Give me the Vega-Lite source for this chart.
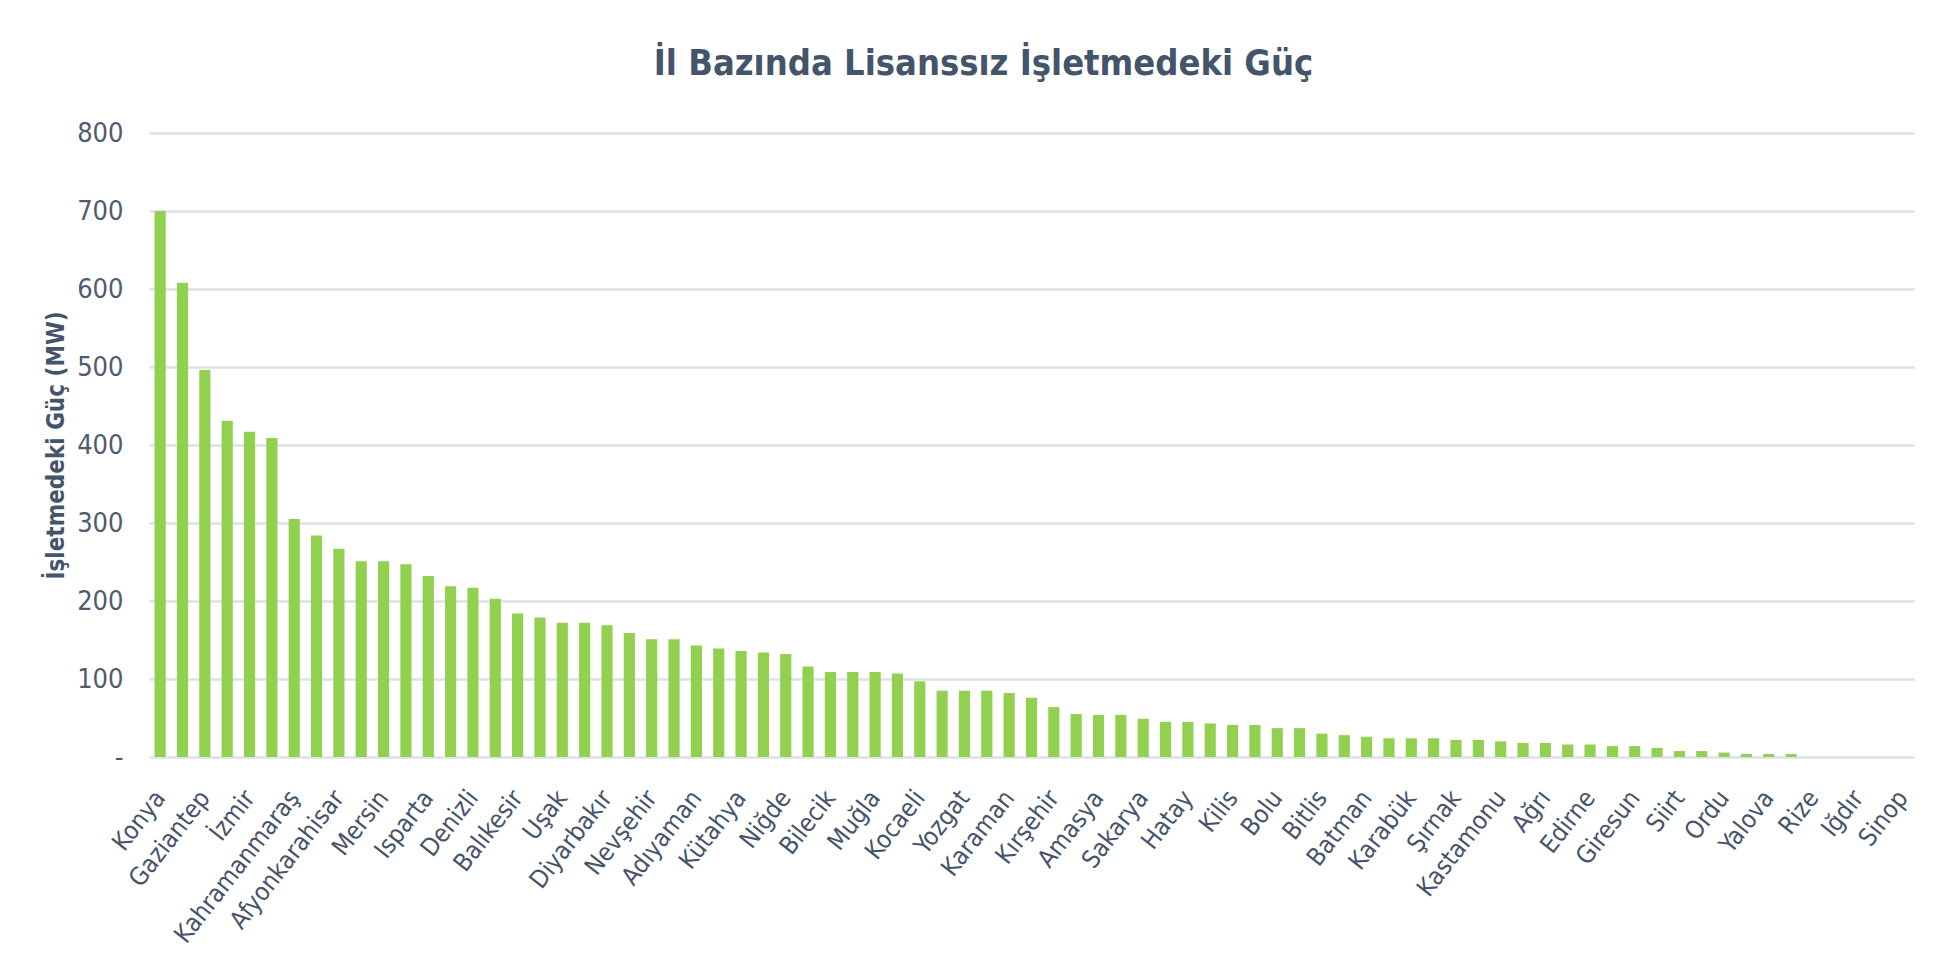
{
  "$schema": "https://vega.github.io/schema/vega-lite/v6.json",
  "width": 1765,
  "height": 624,
  "autosize": {"type": "none"},
  "padding": {"left": 149, "top": 133, "right": 37, "bottom": 210},
  "background": "white",
  "title": {
    "text": "İl Bazında Lisanssız İşletmedeki Güç",
    "font": "DejaVu Sans Condensed, DejaVu Sans, sans-serif",
    "fontSize": 36,
    "fontWeight": "bold",
    "color": "#44546a",
    "anchor": "middle",
    "frame": "group",
    "dx": -48,
    "offset": 8,
    "baseline": "alphabetic"
  },
  "data": {
    "values": [
      {"il": "Konya", "guc": 700},
      {"il": "Kayseri", "guc": 608},
      {"il": "Gaziantep", "guc": 496},
      {"il": "Ankara", "guc": 431},
      {"il": "İzmir", "guc": 417},
      {"il": "Antalya", "guc": 409},
      {"il": "Kahramanmaraş", "guc": 305},
      {"il": "Şanlıurfa", "guc": 284},
      {"il": "Afyonkarahisar", "guc": 267},
      {"il": "Burdur", "guc": 251},
      {"il": "Mersin", "guc": 251},
      {"il": "Manisa", "guc": 247},
      {"il": "Isparta", "guc": 232},
      {"il": "Aydın", "guc": 219},
      {"il": "Denizli", "guc": 217},
      {"il": "Elazığ", "guc": 203},
      {"il": "Balıkesir", "guc": 184},
      {"il": "Malatya", "guc": 179},
      {"il": "Uşak", "guc": 172},
      {"il": "Aksaray", "guc": 172},
      {"il": "Diyarbakır", "guc": 169},
      {"il": "Eskişehir", "guc": 159},
      {"il": "Nevşehir", "guc": 151},
      {"il": "Adana", "guc": 151},
      {"il": "Adıyaman", "guc": 143},
      {"il": "Erzurum", "guc": 139},
      {"il": "Kütahya", "guc": 136},
      {"il": "Bursa", "guc": 134},
      {"il": "Niğde", "guc": 132},
      {"il": "Osmaniye", "guc": 116},
      {"il": "Bilecik", "guc": 109},
      {"il": "Sivas", "guc": 109},
      {"il": "Muğla", "guc": 109},
      {"il": "Mardin", "guc": 107},
      {"il": "Kocaeli", "guc": 97},
      {"il": "Van", "guc": 85},
      {"il": "Yozgat", "guc": 85},
      {"il": "Çorum", "guc": 85},
      {"il": "Karaman", "guc": 82},
      {"il": "Tokat", "guc": 76},
      {"il": "Kırşehir", "guc": 64},
      {"il": "Samsun", "guc": 55},
      {"il": "Amasya", "guc": 54},
      {"il": "Kırıkkale", "guc": 54},
      {"il": "Sakarya", "guc": 49},
      {"il": "Çanakkale", "guc": 45},
      {"il": "Hatay", "guc": 45},
      {"il": "Erzincan", "guc": 43},
      {"il": "Kilis", "guc": 41},
      {"il": "İstanbul", "guc": 41},
      {"il": "Bolu", "guc": 37},
      {"il": "Tekirdağ", "guc": 37},
      {"il": "Bitlis", "guc": 30},
      {"il": "Muş", "guc": 28},
      {"il": "Batman", "guc": 26},
      {"il": "Kars", "guc": 24},
      {"il": "Karabük", "guc": 24},
      {"il": "Bingöl", "guc": 24},
      {"il": "Şırnak", "guc": 22},
      {"il": "Çankırı", "guc": 22},
      {"il": "Kastamonu", "guc": 20},
      {"il": "Düzce", "guc": 18},
      {"il": "Ağrı", "guc": 18},
      {"il": "Kırklareli", "guc": 16},
      {"il": "Edirne", "guc": 16},
      {"il": "Zonguldak", "guc": 14},
      {"il": "Giresun", "guc": 14},
      {"il": "Bartın", "guc": 11.7},
      {"il": "Siirt", "guc": 7.6},
      {"il": "Hakkari", "guc": 7.6},
      {"il": "Ordu", "guc": 5.7},
      {"il": "Trabzon", "guc": 3.8},
      {"il": "Yalova", "guc": 3.8},
      {"il": "Artvin", "guc": 3.8},
      {"il": "Rize", "guc": 0},
      {"il": "Bayburt", "guc": 0},
      {"il": "Iğdır", "guc": 0},
      {"il": "Gümüşhane", "guc": 0},
      {"il": "Sinop", "guc": 0}
    ]
  },
  "mark": {"type": "bar", "color": "#92d050"},
  "encoding": {
    "x": {
      "field": "il",
      "type": "nominal",
      "sort": null,
      "scale": {"paddingInner": 0.5, "paddingOuter": 0.25},
      "axis": {
        "values": ["Konya", "Gaziantep", "İzmir", "Kahramanmaraş", "Afyonkarahisar", "Mersin", "Isparta", "Denizli", "Balıkesir", "Uşak", "Diyarbakır", "Nevşehir", "Adıyaman", "Kütahya", "Niğde", "Bilecik", "Muğla", "Kocaeli", "Yozgat", "Karaman", "Kırşehir", "Amasya", "Sakarya", "Hatay", "Kilis", "Bolu", "Bitlis", "Batman", "Karabük", "Şırnak", "Kastamonu", "Ağrı", "Edirne", "Giresun", "Siirt", "Ordu", "Yalova", "Rize", "Iğdır", "Sinop"],
        "title": null,
        "labelAngle": -52,
        "labelAlign": "right",
        "labelBaseline": "middle",
        "labelFont": "DejaVu Sans Condensed, DejaVu Sans, sans-serif",
        "labelFontSize": 25,
        "labelColor": "#44546a",
        "labelPadding": 36,
        "labelLimit": 0,
        "labelOverlap": false,
        "labelBound": false,
        "ticks": false,
        "domain": false,
        "grid": false
      }
    },
    "y": {
      "field": "guc",
      "type": "quantitative",
      "scale": {"domain": [0, 800]},
      "axis": {
        "values": [0, 100, 200, 300, 400, 500, 600, 700, 800],
        "title": "İşletmedeki Güç (MW)",
        "titleFont": "DejaVu Sans Condensed, DejaVu Sans, sans-serif",
        "titleFontSize": 24,
        "titleFontWeight": "bold",
        "titleColor": "#44546a",
        "titlePadding": 8,
        "labelExpr": "datum.value == 0 ? '-' : datum.label",
        "labelFont": "DejaVu Sans Condensed, DejaVu Sans, sans-serif",
        "labelFontSize": 27,
        "labelColor": "#4f5b6e",
        "labelPadding": 26,
        "ticks": false,
        "domain": false,
        "gridColor": "#dde1e8",
        "gridWidth": 2.5
      }
    }
  },
  "config": {"view": {"stroke": null}}
}
